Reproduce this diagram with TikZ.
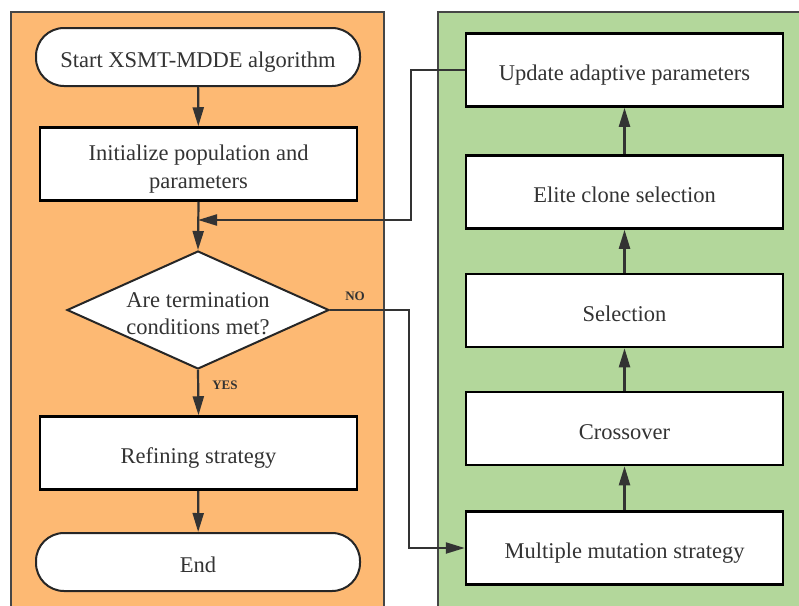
\documentclass[tikz,border=0pt]{standalone}
\usepackage{fontspec}
\setmainfont{Liberation Serif}
\usetikzlibrary{shapes.geometric,arrows.meta}
\definecolor{orangebg}{RGB}{253,185,115}
\definecolor{greenbg}{RGB}{179,215,155}
\definecolor{ink}{RGB}{51,51,51}
\definecolor{frame}{RGB}{70,70,70}
\tikzset{
  panel/.style={draw=frame,line width=2.2pt},
  term/.style={draw=black!85,line width=2pt,fill=white,rounded corners=28pt,
    minimum width=324pt,minimum height=58pt,inner sep=0pt,text=ink,
    text height=22pt,text depth=1pt,
    font=\fontsize{22.5}{28}\selectfont},
  proc/.style={draw=black,line width=2.5pt,fill=white,
    minimum width=317pt,minimum height=73pt,inner sep=0pt,text=ink,align=center,
    text height=22pt,text depth=1pt,
    font=\fontsize{22.5}{28}\selectfont},
  proc2/.style={proc,text height=50pt,text depth=2pt},
  dec/.style={draw=black!85,line width=2pt,fill=white,diamond,
    minimum width=262pt,minimum height=118pt,inner sep=0pt},
  txt/.style={text=ink,align=center,inner sep=0pt,font=\fontsize{22.5}{27}\selectfont},
  lab/.style={text=ink,font=\fontsize{13}{15}\selectfont\bfseries},
  flow/.style={draw=ink,line width=2.2pt,-{Triangle[length=19pt,width=11pt]}},
  wire/.style={draw=ink,line width=2.2pt},
}
\begin{document}
\begin{tikzpicture}[x=1pt,y=-1pt]
\useasboundingbox (0,0) rectangle (799,605);
\clip (0,0) rectangle (799,605);
% panels
\path[panel,fill=orangebg] (11,12) rectangle (384,630);
\path[panel,fill=greenbg] (438,12) rectangle (820,630);
% nodes
\node[term] (start) at (198,57) {Start XSMT-MDDE algorithm};
\node[proc2] (init) at (198.5,164) {Initialize population and\\parameters};
\node[dec] (cond) at (198,310) {};
\node[txt,anchor=base] (condt) at (198,334) {Are termination\\conditions met?};
\node[proc] (refine) at (198.5,453) {Refining strategy};
\node[term] (end) at (198,562) {End};
\node[proc] (update) at (624.5,70) {Update adaptive parameters};
\node[proc] (elite) at (624.5,192) {Elite clone selection};
\node[proc] (sel) at (624.5,310.5) {Selection};
\node[proc] (cross) at (624.5,428.5) {Crossover};
\node[proc] (mult) at (624.5,548) {Multiple mutation strategy};
\coordinate (join) at (198,220);
\coordinate (fb1) at (411,70);
\coordinate (no1) at (409,310);
% connectors
\draw[flow] (start) -- (init);
\draw[flow] (init.south) -- (cond.north);
\draw[flow] (update.west) -- (fb1) |- (join);
\draw[flow] (cond.south) -- (refine.north);
\draw[flow] (refine) -- (end);
\draw[flow] (cond.east) -- (no1) |- (mult.west);
\draw[flow] (mult) -- (cross);
\draw[flow] (cross) -- (sel);
\draw[flow] (sel) -- (elite);
\draw[flow] (elite) -- (update);
% labels
\node[lab] (yes) at (225,385) {YES};
\node[lab] (no) at (355,296) {NO};
\end{tikzpicture}
\end{document}
